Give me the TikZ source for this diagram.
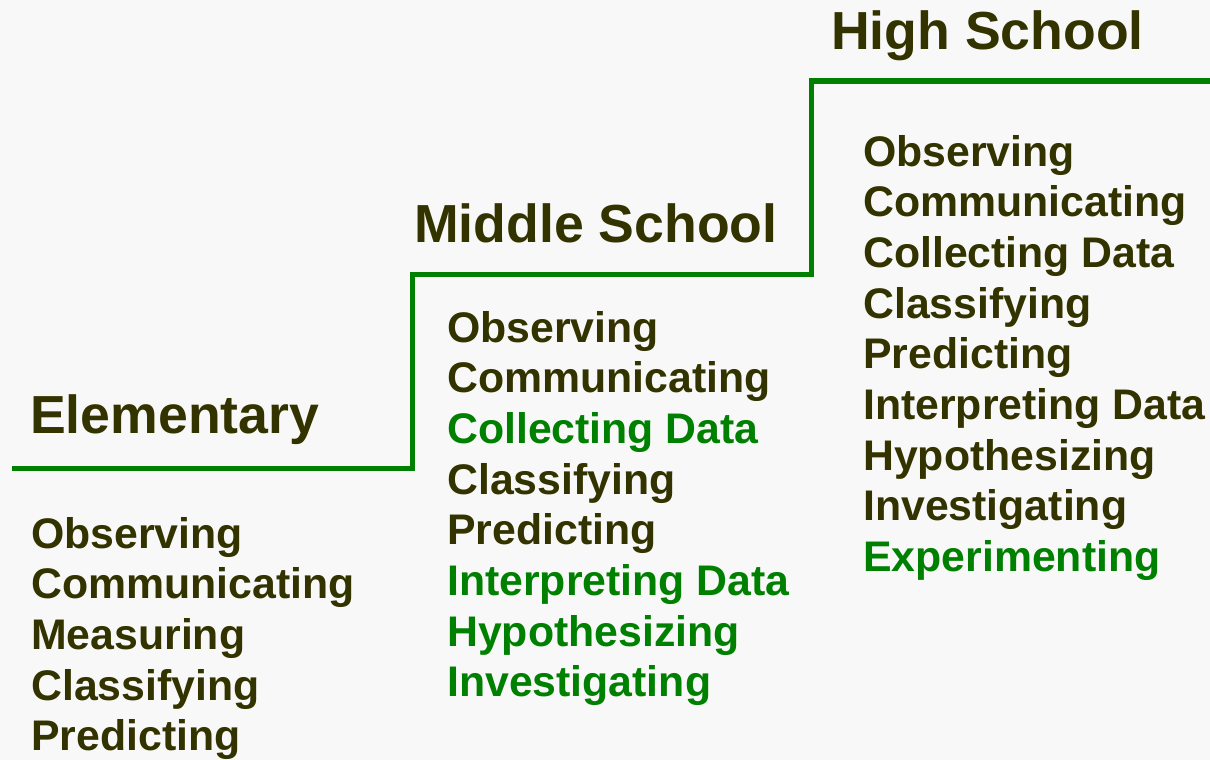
\documentclass[tikz,border=0pt]{standalone}
\usepackage{fontspec}
\setmainfont{Liberation Sans}
\definecolor{txt}{HTML}{333300}
\definecolor{grn}{HTML}{008000}
\definecolor{bg}{HTML}{F8F8F8}
\begin{document}
\begin{tikzpicture}[x=1pt,y=-1pt,
  heading/.style={anchor=base west,inner sep=0pt,text=txt,font=\bfseries\fontsize{53.6}{60}\selectfont},
  item/.style={anchor=base west,inner sep=0pt,text=txt,font=\bfseries\fontsize{42.8}{48}\selectfont},
  newitem/.style={item,text=grn},
  stair/.style={draw=grn,line width=5pt}]
\fill[bg] (0,0) rectangle (1210,760);
\useasboundingbox (0,0) rectangle (1210,760);
% staircase
\coordinate (s0) at (12,468);
\coordinate (s1) at (412,468);
\coordinate (s2) at (412,274);
\coordinate (s3) at (811,274);
\coordinate (s4) at (811,81);
\coordinate (s5) at (1212,81);
\draw[stair] (s0) -- (s1) -- (s2) -- (s3) -- (s4) -- (s5);
% headings
\node[heading] (helem) at (30,433) {Elementary};
\node[heading] (hmid) at (414,242) {Middle School};
\node[heading] (hhigh) at (831,50) {High School};
% elementary
\node[item] (e1) at (31,548) {Observing};
\node[item] (e2) at (31,598.7) {Communicating};
\node[item] (e3) at (31,649.4) {Measuring};
\node[item] (e4) at (31,700.1) {Classifying};
\node[item] (e5) at (31,750.8) {Predicting};
% middle
\node[item] (m1) at (447,342) {Observing};
\node[item] (m2) at (447,392.7) {Communicating};
\node[newitem] (m3) at (447,443.4) {Collecting Data};
\node[item] (m4) at (447,494.1) {Classifying};
\node[item] (m5) at (447,544.8) {Predicting};
\node[newitem] (m6) at (447,595.5) {Interpreting Data};
\node[newitem] (m7) at (447,646.2) {Hypothesizing};
\node[newitem] (m8) at (447,696.9) {Investigating};
% high
\node[item] (h1) at (863,166) {Observing};
\node[item] (h2) at (863,216.7) {Communicating};
\node[item] (h3) at (863,267.4) {Collecting Data};
\node[item] (h4) at (863,318.1) {Classifying};
\node[item] (h5) at (863,368.8) {Predicting};
\node[item] (h6) at (863,419.5) {Interpreting Data};
\node[item] (h7) at (863,470.2) {Hypothesizing};
\node[item] (h8) at (863,520.9) {Investigating};
\node[newitem] (h9) at (863,571.6) {Experimenting};
\end{tikzpicture}
\end{document}
